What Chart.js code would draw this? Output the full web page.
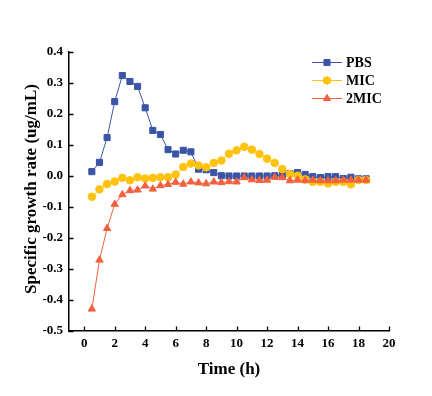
<!DOCTYPE html>
<html>
<head>
<meta charset="utf-8">
<script src="https://cdn.jsdelivr.net/npm/chart.js@4/dist/chart.umd.min.js"></script>
<style>
  html, body { margin: 0; padding: 0; background: #ffffff; }
  #wrap { width: 432px; height: 396px; }
</style>
</head>
<body>
<div id="wrap"><canvas id="c" width="432" height="396"></canvas></div>
<script>
const timeH = [0.5, 1, 1.5, 2, 2.5, 3, 3.5, 4, 4.5, 5, 5.5, 6, 6.5, 7, 7.5, 8, 8.5, 9, 9.5, 10,
               10.5, 11, 11.5, 12, 12.5, 13, 13.5, 14, 14.5, 15, 15.5, 16, 16.5, 17, 17.5, 18, 18.5];
const pbs = [0.014, 0.044, 0.124, 0.240, 0.324, 0.305, 0.289, 0.220, 0.147, 0.134, 0.085, 0.071, 0.083, 0.078,
             0.022, 0.020, 0.011, 0.001, 0.000, 0.000, 0.000, 0.000, 0.000, 0.000, 0.001, 0.004, 0.008, 0.011,
             0.005, -0.002, -0.005, -0.002, -0.002, -0.008, -0.004, -0.009, -0.009];
const mic = [-0.067, -0.043, -0.026, -0.018, -0.006, -0.014, -0.004, -0.008, -0.006, -0.004, -0.004, 0.005, 0.029,
             0.040, 0.034, 0.028, 0.042, 0.050, 0.072, 0.083, 0.094, 0.085, 0.071, 0.056, 0.042, 0.022, 0.006,
             0.001, -0.011, -0.019, -0.019, -0.024, -0.019, -0.019, -0.027, -0.013, -0.013];
const mic2 = [-0.429, -0.271, -0.169, -0.091, -0.060, -0.047, -0.045, -0.032, -0.042, -0.031, -0.027, -0.020, -0.026,
              -0.019, -0.022, -0.025, -0.019, -0.021, -0.018, -0.019, -0.005, -0.012, -0.014, -0.013, -0.004, -0.005,
              -0.015, -0.013, -0.015, -0.013, -0.015, -0.015, -0.015, -0.013, -0.013, -0.013, -0.013];
const seriesNames = ['PBS', 'MIC', '2MIC'];
const xTicks = [0, 2, 4, 6, 8, 10, 12, 14, 16, 18, 20];
const yTicks = [-0.5, -0.4, -0.3, -0.2, -0.1, 0.0, 0.1, 0.2, 0.3, 0.4];
const xTitle = 'Time (h)';
const yTitle = 'Specific growth rate (ug/mL)';

const FONT = '"Liberation Serif", "Times New Roman", serif';
const C_PBS = '#3A55A6';
const C_MIC = '#FFC20E';
const C_2MIC = '#F2603E';

function pts(arr) { return timeH.map((t, i) => ({ x: t, y: arr[i] })); }

const extras = {
  id: 'extras',
  afterDraw(chart) {
    const ctx = chart.ctx;
    const xs = chart.scales.x, ys = chart.scales.y;
    const a = chart.chartArea;
    ctx.save();
    // inward tick marks
    ctx.strokeStyle = '#000';
    ctx.lineWidth = 1.3;
    ctx.beginPath();
    xTicks.forEach(v => {
      const px = Math.round(xs.getPixelForValue(v)) + 0.5;
      ctx.moveTo(px, a.bottom); ctx.lineTo(px, a.bottom - 4.5);
    });
    yTicks.forEach(v => {
      const py = Math.round(ys.getPixelForValue(v)) + 0.5;
      ctx.moveTo(a.left, py); ctx.lineTo(a.left + 4.5, py);
    });
    ctx.stroke();
    // axis titles
    ctx.fillStyle = '#000';
    ctx.font = 'bold 17px ' + FONT;
    ctx.textAlign = 'center';
    ctx.textBaseline = 'middle';
    ctx.fillText(xTitle, (a.left + a.right) / 2, 370);
    ctx.save();
    ctx.translate(32, 189);
    ctx.rotate(-Math.PI / 2);
    ctx.fillText(yTitle, 0, 0);
    ctx.restore();
    // legend
    const rows = [62, 80, 98];
    chart.data.datasets.forEach((ds, i) => {
      const y = rows[i];
      ctx.strokeStyle = ds.borderColor;
      ctx.lineWidth = 1;
      ctx.beginPath();
      ctx.moveTo(312, y + 0.5); ctx.lineTo(342, y + 0.5);
      ctx.stroke();
      ctx.save();
      ctx.fillStyle = ds.backgroundColor;
      ctx.strokeStyle = ds.borderColor;
      ctx.lineWidth = 1;
      Chart.helpers.drawPoint(ctx, {
        pointStyle: ds.pointStyle, radius: ds.pointRadius, borderWidth: 1, rotation: 0
      }, 327, y + 0.5);
      ctx.restore();
      ctx.fillStyle = '#000';
      ctx.font = 'bold 14px ' + FONT;
      ctx.textAlign = 'left';
      ctx.textBaseline = 'middle';
      ctx.fillText(seriesNames[i], 346, y + 1);
    });
    ctx.restore();
  }
};

new Chart(document.getElementById('c'), {
  type: 'line',
  data: {
    datasets: [
      { label: seriesNames[0], data: pts(pbs), borderColor: C_PBS, backgroundColor: C_PBS,
        pointStyle: 'rect', pointRadius: 4.3, pointBorderWidth: 1, borderWidth: 1, order: 3 },
      { label: seriesNames[1], data: pts(mic), borderColor: C_MIC, backgroundColor: C_MIC,
        pointStyle: 'circle', pointRadius: 3.8, pointBorderWidth: 1, borderWidth: 1, order: 2 },
      { label: seriesNames[2], data: pts(mic2), borderColor: C_2MIC, backgroundColor: C_2MIC,
        pointStyle: 'triangle', pointRadius: 4.2, pointBorderWidth: 1, borderWidth: 1, order: 1 }
    ]
  },
  options: {
    responsive: false,
    animation: false,
    layout: { padding: { left: 0, top: 52, right: 43, bottom: 0 } },
    plugins: { legend: { display: false }, tooltip: { enabled: false } },
    elements: { line: { tension: 0 } },
    scales: {
      x: {
        type: 'linear', min: -1, max: 20,
        afterBuildTicks: s => { s.ticks = xTicks.map(v => ({ value: v })); },
        afterFit: s => { s.height = 65; },
        grid: { display: false, drawTicks: false },
        border: { display: true, color: '#000', width: 1.5 },
        ticks: { color: '#000', padding: 5, maxRotation: 0, autoSkip: false,
                 font: { family: FONT, size: 13, weight: 'bold' } }
      },
      y: {
        type: 'linear', min: -0.5, max: 0.4,
        afterBuildTicks: s => { s.ticks = yTicks.map(v => ({ value: v })); },
        afterFit: s => { s.width = 69; },
        grid: { display: false, drawTicks: false },
        border: { display: true, color: '#000', width: 1.5 },
        ticks: { color: '#000', padding: 6, autoSkip: false,
                 callback: v => Number(v).toFixed(1),
                 font: { family: FONT, size: 13, weight: 'bold' } }
      }
    }
  },
  plugins: [extras]
});
</script>
</body>
</html>
